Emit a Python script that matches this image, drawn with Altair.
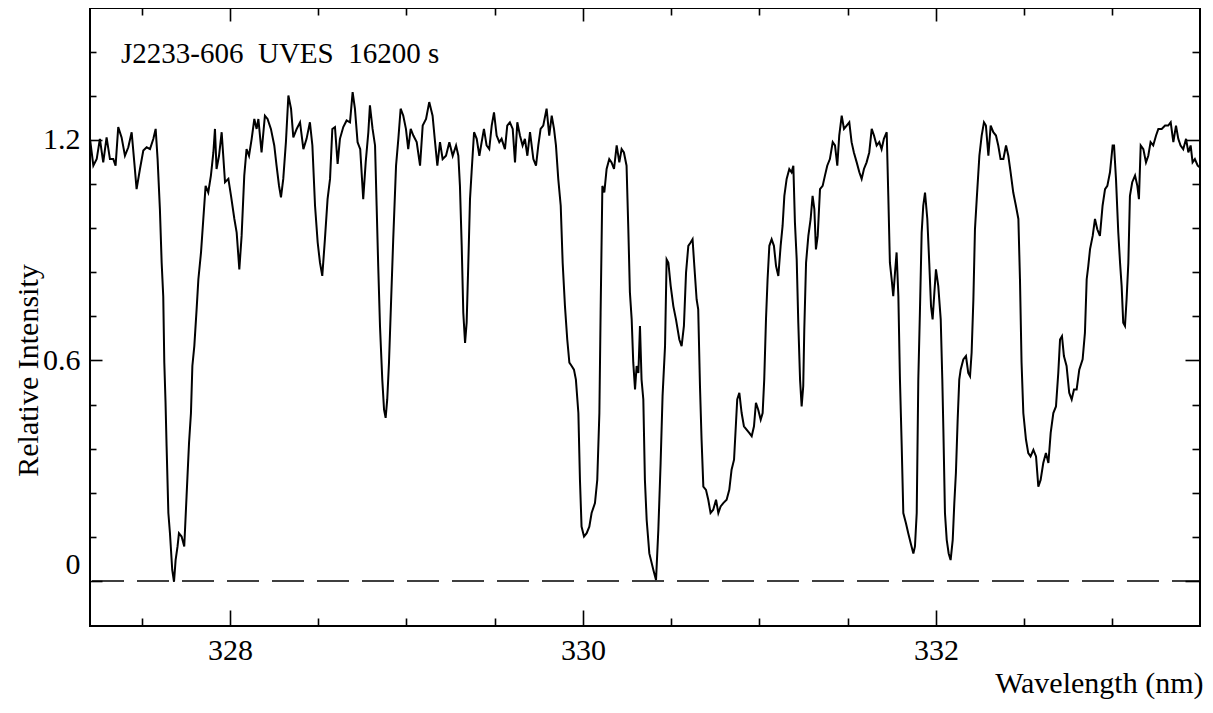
import altair as alt
import pandas as pd

# ---- spectrum values (wavelength in nm, relative intensity) ----
wl_1 = [327.207, 327.226, 327.245, 327.263, 327.282, 327.301, 327.320, 327.339, 327.352, 327.367,
        327.386, 327.405, 327.424, 327.443, 327.458, 327.471, 327.490, 327.509, 327.528, 327.547,
        327.566, 327.579, 327.590, 327.603, 327.613, 327.622, 327.628, 327.635, 327.641, 327.651,
        327.660, 327.673, 327.683, 327.692, 327.703, 327.711, 327.726, 327.741, 327.754, 327.768,
        327.779, 327.787, 327.798, 327.811, 327.821, 327.836, 327.849, 327.862, 327.877, 327.892,
        327.906, 327.915, 327.924, 327.938, 327.953, 327.972, 327.991, 328.006, 328.025, 328.038,
        328.053, 328.066, 328.081, 328.094, 328.108, 328.123, 328.138, 328.151, 328.161, 328.179,
        328.198, 328.213, 328.232, 328.251, 328.264, 328.278, 328.289, 328.302, 328.317, 328.331,
        328.346, 328.359, 328.378, 328.397, 328.416, 328.434, 328.453, 328.467, 328.482, 328.497,
        328.510, 328.523, 328.538, 328.553, 328.567, 328.580, 328.595, 328.610, 328.623, 328.642,
        328.661, 328.680, 328.695, 328.708, 328.723, 328.738, 328.755, 328.769, 328.784]
in_1 = [1.203, 1.130, 1.148, 1.203, 1.139, 1.207, 1.148, 1.148, 1.130, 1.235,
        1.207, 1.157, 1.180, 1.221, 1.139, 1.066, 1.121, 1.171, 1.180, 1.175,
        1.203, 1.230, 1.148, 1.012, 0.866, 0.775, 0.594, 0.485, 0.366, 0.185,
        0.130, 0.030, -0.002, 0.057, 0.094, 0.130, 0.121, 0.094, 0.230, 0.375,
        0.457, 0.585, 0.639, 0.739, 0.821, 0.894, 0.985, 1.075, 1.057, 1.103,
        1.166, 1.230, 1.121, 1.157, 1.221, 1.085, 1.094, 1.048, 0.985, 0.948,
        0.848, 0.939, 1.103, 1.175, 1.157, 1.203, 1.257, 1.230, 1.257, 1.166,
        1.266, 1.257, 1.230, 1.185, 1.130, 1.075, 1.044, 1.094, 1.194, 1.321,
        1.285, 1.207, 1.230, 1.248, 1.175, 1.203, 1.248, 1.185, 1.021, 0.921,
        0.866, 0.830, 0.930, 1.039, 1.094, 1.230, 1.235, 1.135, 1.203, 1.235,
        1.253, 1.248, 1.330, 1.285, 1.194, 1.175, 1.039, 1.139, 1.221]

wl_2 = [328.793, 328.808, 328.822, 328.831, 328.840, 328.850, 328.863, 328.873, 328.882, 328.891,
        328.901, 328.912, 328.925, 328.941, 328.954, 328.967, 328.982, 328.997, 329.010, 329.024,
        329.039, 329.058, 329.077, 329.092, 329.111, 329.129, 329.148, 329.162, 329.175, 329.190,
        329.205, 329.224, 329.243, 329.262, 329.281, 329.294, 329.303, 329.313, 329.322, 329.332,
        329.341, 329.350, 329.360, 329.369, 329.383, 329.398, 329.413, 329.426, 329.439, 329.454,
        329.469, 329.483, 329.496, 329.511, 329.526, 329.539, 329.558, 329.571, 329.586, 329.602,
        329.615, 329.628, 329.643, 329.658, 329.671, 329.685, 329.700, 329.719, 329.734, 329.747,
        329.760, 329.775, 329.794, 329.809, 329.823, 329.836, 329.847, 329.860, 329.874, 329.885,
        329.898, 329.911, 329.923, 329.936, 329.949, 329.960, 329.974, 329.983, 329.992, 330.006,
        330.021, 330.036, 330.049, 330.068, 330.081, 330.093, 330.100, 330.110, 330.121, 330.134,
        330.149, 330.162, 330.176, 330.191, 330.206, 330.219, 330.232, 330.247, 330.257, 330.266,
        330.276, 330.285, 330.295, 330.304, 330.314, 330.323, 330.332, 330.342, 330.351, 330.361,
        330.376]
in_2 = [1.294, 1.230, 1.185, 1.021, 0.857, 0.694, 0.548, 0.466, 0.444, 0.494,
        0.594, 0.748, 0.930, 1.130, 1.203, 1.285, 1.266, 1.230, 1.175, 1.230,
        1.212, 1.194, 1.130, 1.239, 1.257, 1.303, 1.266, 1.194, 1.130, 1.194,
        1.148, 1.157, 1.194, 1.157, 1.185, 1.157, 1.075, 0.912, 0.730, 0.648,
        0.703, 0.857, 1.039, 1.112, 1.221, 1.203, 1.157, 1.194, 1.230, 1.185,
        1.175, 1.239, 1.275, 1.212, 1.194, 1.203, 1.175, 1.239, 1.248, 1.230,
        1.139, 1.248, 1.212, 1.185, 1.203, 1.157, 1.221, 1.148, 1.130, 1.185,
        1.230, 1.239, 1.285, 1.212, 1.266, 1.230, 1.185, 1.094, 1.021, 0.866,
        0.748, 0.657, 0.594, 0.585, 0.575, 0.548, 0.457, 0.275, 0.148, 0.121,
        0.130, 0.148, 0.185, 0.212, 0.275, 0.457, 0.730, 1.075, 1.057, 1.121,
        1.148, 1.139, 1.121, 1.185, 1.139, 1.175, 1.166, 1.130, 0.957, 0.785,
        0.712, 0.594, 0.521, 0.585, 0.566, 0.694, 0.548, 0.494, 0.275, 0.166,
        0.075]

wl_3 = [330.399, 330.414, 330.427, 330.440, 330.451, 330.465, 330.474, 330.484, 330.497, 330.512,
        330.527, 330.546, 330.559, 330.572, 330.584, 330.597, 330.610, 330.621, 330.631, 330.644,
        330.653, 330.663, 330.672, 330.682, 330.697, 330.710, 330.723, 330.738, 330.754, 330.767,
        330.780, 330.795, 330.814, 330.829, 330.842, 330.856, 330.867, 330.874, 330.886, 330.899,
        330.912, 330.927, 330.942, 330.956, 330.969, 330.980, 330.993, 331.007, 331.018, 331.027,
        331.037, 331.046, 331.056, 331.069, 331.082, 331.094, 331.107, 331.120, 331.131, 331.141,
        331.154, 331.169, 331.182, 331.192, 331.201, 331.211, 331.220, 331.230, 331.239, 331.248,
        331.254, 331.264, 331.277, 331.290, 331.301, 331.311, 331.320, 331.330, 331.343, 331.358,
        331.371, 331.384, 331.399, 331.415, 331.428, 331.441, 331.452, 331.466, 331.479, 331.494,
        331.509, 331.522, 331.535, 331.551, 331.566, 331.579, 331.592, 331.607, 331.622, 331.636,
        331.649, 331.664, 331.679, 331.692, 331.705, 331.721, 331.730, 331.739, 331.749, 331.758,
        331.768, 331.777, 331.787, 331.796, 331.806, 331.815, 331.830, 331.843, 331.857, 331.872,
        331.881, 331.891, 331.900, 331.909]
in_3 = [0.030, 0.003, 0.139, 0.321, 0.503, 0.639, 0.875, 0.866, 0.803, 0.748,
        0.712, 0.657, 0.639, 0.694, 0.839, 0.912, 0.921, 0.930, 0.857, 0.766,
        0.739, 0.530, 0.385, 0.257, 0.248, 0.221, 0.185, 0.194, 0.221, 0.185,
        0.203, 0.212, 0.221, 0.248, 0.303, 0.330, 0.430, 0.494, 0.512, 0.457,
        0.421, 0.412, 0.403, 0.394, 0.421, 0.485, 0.466, 0.439, 0.457, 0.548,
        0.712, 0.821, 0.912, 0.930, 0.912, 0.857, 0.830, 0.912, 0.966, 1.048,
        1.094, 1.121, 1.112, 1.130, 0.975, 0.875, 0.703, 0.548, 0.475, 0.530,
        0.685, 0.866, 0.939, 0.985, 1.048, 1.012, 0.902, 0.939, 1.066, 1.075,
        1.103, 1.130, 1.148, 1.194, 1.185, 1.130, 1.212, 1.266, 1.230, 1.239,
        1.248, 1.194, 1.166, 1.139, 1.112, 1.094, 1.121, 1.139, 1.166, 1.230,
        1.212, 1.185, 1.194, 1.175, 1.203, 1.221, 1.048, 0.866, 0.821, 0.775,
        0.839, 0.894, 0.775, 0.548, 0.366, 0.185, 0.157, 0.130, 0.103, 0.075,
        0.094, 0.185, 0.548, 0.730]

wl_4 = [331.919, 331.928, 331.938, 331.951, 331.962, 331.972, 331.981, 331.991, 332.000, 332.013,
        332.027, 332.036, 332.042, 332.051, 332.061, 332.072, 332.083, 332.095, 332.104, 332.113,
        332.123, 332.132, 332.140, 332.155, 332.170, 332.183, 332.193, 332.202, 332.212, 332.221,
        332.231, 332.246, 332.259, 332.272, 332.283, 332.297, 332.310, 332.325, 332.340, 332.353,
        332.366, 332.382, 332.397, 332.410, 332.423, 332.438, 332.453, 332.467, 332.476, 332.485,
        332.495, 332.510, 332.523, 332.536, 332.552, 332.567, 332.580, 332.593, 332.608, 332.623,
        332.637, 332.650, 332.665, 332.680, 332.693, 332.703, 332.714, 332.725, 332.740, 332.755,
        332.769, 332.782, 332.797, 332.812, 332.831, 332.844, 332.854, 332.863, 332.873, 332.888,
        332.901, 332.914, 332.929, 332.944, 332.958, 332.971, 332.986, 333.001, 333.009, 333.020,
        333.033, 333.043, 333.052, 333.061, 333.071, 333.080, 333.090, 333.099, 333.112, 333.128,
        333.141, 333.150, 333.160, 333.175, 333.190, 333.203, 333.216, 333.231, 333.247, 333.260,
        333.279, 333.298, 333.316, 333.330, 333.345, 333.360, 333.373, 333.386, 333.401, 333.417,
        333.430, 333.443, 333.454, 333.467, 333.483, 333.496]
in_4 = [0.948, 1.021, 1.057, 0.985, 0.866, 0.748, 0.712, 0.785, 0.848, 0.803,
        0.712, 0.548, 0.412, 0.185, 0.112, 0.075, 0.057, 0.112, 0.212, 0.294,
        0.439, 0.548, 0.575, 0.603, 0.612, 0.566, 0.557, 0.621, 0.766, 0.957,
        1.039, 1.157, 1.212, 1.248, 1.239, 1.157, 1.239, 1.221, 1.212, 1.185,
        1.148, 1.148, 1.185, 1.157, 1.112, 1.057, 1.021, 0.985, 0.821, 0.594,
        0.457, 0.385, 0.348, 0.339, 0.357, 0.339, 0.257, 0.275, 0.321, 0.348,
        0.321, 0.403, 0.457, 0.475, 0.566, 0.657, 0.666, 0.612, 0.585, 0.512,
        0.494, 0.521, 0.521, 0.575, 0.603, 0.675, 0.821, 0.857, 0.903, 0.939,
        0.985, 0.957, 0.939, 1.021, 1.066, 1.075, 1.112, 1.185, 1.185, 1.094,
        0.948, 0.866, 0.803, 0.703, 0.694, 0.766, 0.866, 1.048, 1.085, 1.103,
        1.075, 1.039, 1.185, 1.175, 1.139, 1.157, 1.194, 1.185, 1.212, 1.230,
        1.230, 1.239, 1.239, 1.248, 1.194, 1.239, 1.203, 1.185, 1.175, 1.203,
        1.166, 1.185, 1.139, 1.148, 1.130, 1.125]

# ---- axis ticks / labels ----
x_major = [328, 330, 332]
x_minor = [327.5, 328.5, 329, 329.5, 330.5, 331, 331.5, 332.5, 333]
y_major = [0, 0.6, 1.2]
y_minor = [0.12, 0.24, 0.36, 0.48, 0.72, 0.84, 0.96, 1.08, 1.32, 1.44]
zero_level = [0.0]

title_text = "J2233-606\u00a0\u00a0UVES\u00a0\u00a016200 s"
x_title = "Wavelength (nm)"
y_title = "Relative Intensity"

df = pd.DataFrame({"wl": wl_1 + wl_2 + wl_3 + wl_4,
                   "flux": in_1 + in_2 + in_3 + in_4})
zero_df = pd.DataFrame({"level": zero_level})

X_DOMAIN = [327.207, 333.496]
Y_DOMAIN = [-0.1224, 1.559]
FONT = "Liberation Serif"


def xs():
    return alt.Scale(domain=X_DOMAIN, nice=False, zero=False)


def ys():
    return alt.Scale(domain=Y_DOMAIN, nice=False, zero=False)


def tick_axis(orient, values, size, labels=False, title=None, **kw):
    return alt.Axis(orient=orient, values=values, tickSize=size, offset=-size,
                    domain=False, grid=False, labels=labels, title=title,
                    tickColor="black", tickWidth=1.6, **kw)


base = alt.Chart(df)

line = base.mark_line(color="black", strokeWidth=2, strokeJoin="miter").encode(
    x=alt.X("wl:Q", scale=xs(),
            axis=tick_axis("bottom", x_major, 16, labels=True, title=x_title,
                           format="d", labelFont=FONT, labelFontSize=30, labelColor="black",
                           labelPadding=9, labelFlush=False,
                           titleFont=FONT, titleFontSize=30, titleFontWeight="normal",
                           titleColor="black", titleX=1113, titleY=82,
                           titleAlign="right", titleBaseline="alphabetic")),
    y=alt.Y("flux:Q", scale=ys(),
            axis=tick_axis("left", y_major, 12, labels=True, title=y_title,
                           format="~g", labelFont=FONT, labelFontSize=30, labelColor="black",
                           labelPadding=10, labelFlush=False,
                           labelOffset={"condition": {"test": "datum.value == 0", "value": -17}, "value": 0},
                           titleFont=FONT, titleFontSize=30, titleFontWeight="normal",
                           titleColor="black", titleX=-65, titleY=362, titleAngle=270,
                           titleAlign="center", titleBaseline="alphabetic")),
)

ghost_a = base.mark_line(opacity=0).encode(
    x=alt.X("wl:Q", scale=xs(), axis=tick_axis("bottom", x_minor, 8)),
    y=alt.Y("flux:Q", scale=ys(), axis=tick_axis("left", y_minor, 6)),
)
ghost_b = base.mark_line(opacity=0).encode(
    x=alt.X("wl:Q", scale=xs(), axis=tick_axis("top", x_major, 13)),
    y=alt.Y("flux:Q", scale=ys(), axis=tick_axis("right", y_major, 15)),
)
ghost_c = base.mark_line(opacity=0).encode(
    x=alt.X("wl:Q", scale=xs(), axis=tick_axis("top", x_minor, 7)),
    y=alt.Y("flux:Q", scale=ys(), axis=tick_axis("right", y_minor, 8)),
)

zero_rule = alt.Chart(zero_df).mark_rule(color="black", strokeWidth=1.6,
                                         strokeDash=[32, 13], strokeDashOffset=4).encode(
    y=alt.Y("level:Q", scale=ys(), axis=None)
)

chart = alt.layer(zero_rule, line, ghost_a, ghost_b, ghost_c).resolve_scale(
    x="independent", y="independent"
).resolve_axis(
    x="independent", y="independent"
).properties(
    width=1110,
    height=618,
    autosize=alt.AutoSizeParams(type="none"),
    padding={"left": 82, "top": 0, "right": 5, "bottom": 74},
    background="white",
    title=alt.TitleParams(title_text, anchor="start", orient="top", frame="group",
                          offset=0, dx=31, dy=85, baseline="alphabetic",
                          font=FONT, fontSize=29, fontWeight="normal", color="black"),
).configure_view(stroke="black", strokeWidth=2)

chart.save("out.html", embed_options={"renderer": "svg", "actions": False})
